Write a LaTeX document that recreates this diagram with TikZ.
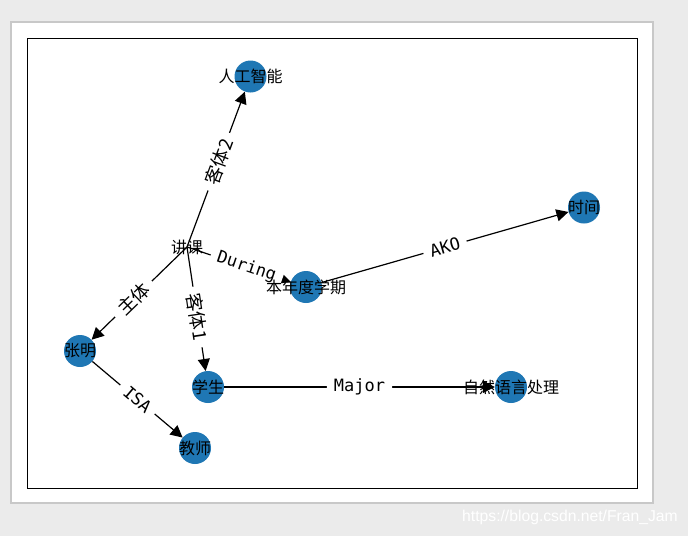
\documentclass[tikz,border=0pt]{standalone}
\usepackage{fontspec}
\setmainfont{Liberation Sans}
\newfontfamily\cjk{Noto Sans CJK SC}
\newfontfamily\lat{DejaVu Sans Mono}
\usetikzlibrary{arrows.meta}
\definecolor{nodeblue}{HTML}{1F77B4}
\definecolor{bggray}{HTML}{EBEBEB}
\definecolor{panelborder}{HTML}{C8C8C8}
\newcommand\elzh[1]{{\cjk\fontsize{18.5}{18.5}\selectfont #1}}
\newcommand\elen[1]{{\lat\fontsize{17}{17}\selectfont #1}}
\begin{document}
\begin{tikzpicture}[x=1pt,y=-1pt,
  vert/.style={circle,fill=nodeblue,minimum size=32pt,inner sep=0pt},
  vlabel/.style={font=\cjk\fontsize{16}{16}\selectfont,inner sep=0pt,text=black},
  edgeline/.style={-{Triangle[length=12pt,width=12pt]},line width=1.2pt,black},
  elabel/.style={fill=white,rounded corners=2pt,inner xsep=7pt,inner ysep=2pt,sloped,text=black}]
% background, panel, axes
\fill[bggray] (0,0) rectangle (688,536);
\filldraw[fill=white,draw=panelborder,line width=1.3pt] (11,22) rectangle (653,503);
\draw[black,line width=1pt] (27,38) rectangle (637,488);
\node[text=white,font=\fontsize{15.7}{15.7}\selectfont,inner sep=0pt] (wm) at (570,517) {https://blog.csdn.net/Fran\_Jam};
% vertices
\coordinate (jk) at (187,247);
\node[vert] (ai) at (250.5,76.5) {};
\node[vert] (sj) at (584,207.5) {};
\node[vert] (bn) at (306,287) {};
\node[vert] (zm) at (80,351) {};
\node[vert] (xs) at (208,387) {};
\node[vert] (zr) at (511,387) {};
\node[vert] (js) at (195,448) {};
% edges
\draw[edgeline] (jk) -- (ai);
\draw[edgeline] (jk) -- (zm);
\draw[edgeline] (jk) -- (xs);
\draw[edgeline] (jk) -- (bn);
\draw[edgeline] (bn) -- (sj);
\draw[edgeline] (zm) -- (js);
\draw[edgeline] (xs) -- (zr);
% edge labels
\path (jk) -- (ai.center) node[elabel,midway] (l1) {\elzh{客体2}};
\path (jk) -- (zm.center) node[elabel,midway] (l2) {\elzh{主体}};
\path (jk) -- (xs.center) node[elabel,midway] (l3) {\elzh{客体1}};
\path (jk) -- (bn.center) node[elabel,midway] (l4) {\elen{During}};
\path (bn.center) -- (sj.center) node[elabel,midway] (l5) {\elen{AKO}};
\path (zm.center) -- (js.center) node[elabel,midway] (l6) {\elen{ISA}};
\path (xs.center) -- (zr.center) node[elabel,midway] (l7) {\elen{Major}};
% vertex labels
\node[vlabel] (jk-t) at (jk) {讲课};
\node[vlabel] (ai-t) at (ai) {人工智能};
\node[vlabel] (sj-t) at (sj) {时间};
\node[vlabel] (bn-t) at (bn) {本年度学期};
\node[vlabel] (zm-t) at (zm) {张明};
\node[vlabel] (xs-t) at (xs) {学生};
\node[vlabel] (zr-t) at (zr) {自然语言处理};
\node[vlabel] (js-t) at (js) {教师};
\end{tikzpicture}
\end{document}
